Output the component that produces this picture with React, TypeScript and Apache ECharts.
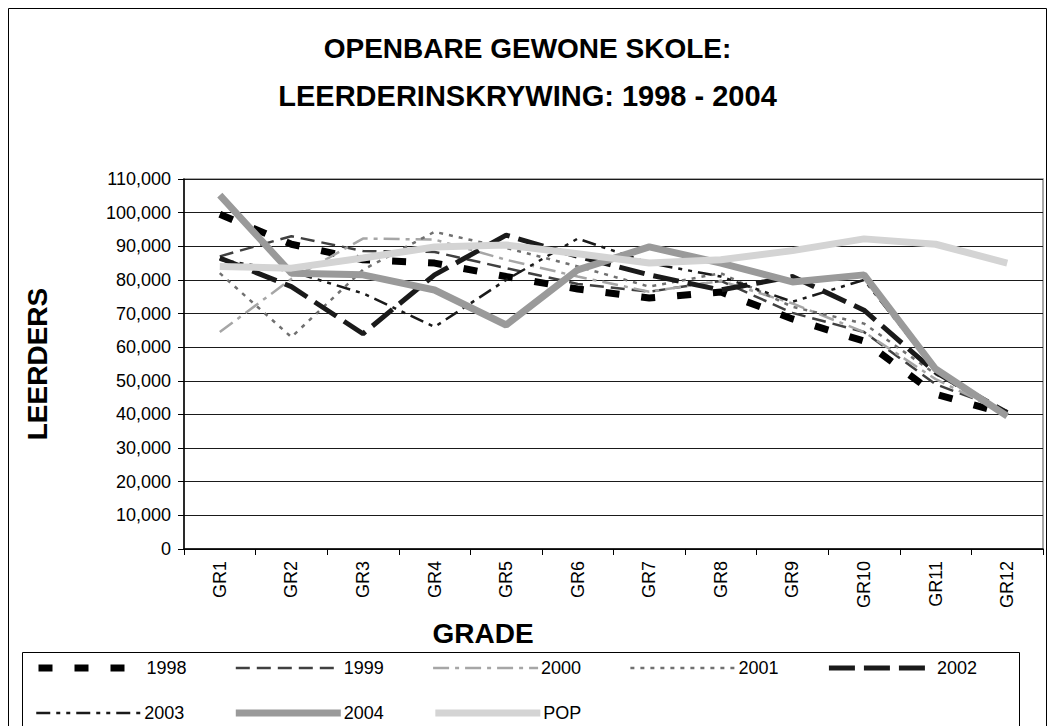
import React, { useEffect, useRef } from "react";
import * as echarts from "echarts";

const categories = ["GR1", "GR2", "GR3", "GR4", "GR5", "GR6", "GR7", "GR8", "GR9", "GR10", "GR11", "GR12"];

const y1998 = [99500, 90600, 86000, 85000, 81000, 77300, 74600, 76400, 68400, 61800, 46000, 40100];
const y1999 = [87000, 93000, 88600, 88300, 83500, 78800, 76500, 79700, 70200, 64500, 49000, 41000];
const y2000 = [64500, 80300, 92300, 92000, 86000, 81000, 76500, 79700, 73000, 64500, 50500, 40000];
const y2001 = [82000, 63000, 83000, 94300, 89500, 84000, 78000, 82000, 72000, 67000, 52000, 40000];
const y2002 = [86500, 78000, 64000, 81500, 93300, 87000, 81500, 77000, 81000, 71000, 52500, 40500];
const y2003 = [86000, 82500, 76000, 66000, 80000, 92300, 85000, 81000, 73500, 80000, 53000, 40000];
const y2004 = [105200, 82000, 81500, 77000, 66600, 83000, 89800, 85000, 79400, 81500, 53500, 39500];
const yPOP = [84000, 83500, 86500, 89800, 90400, 87800, 85000, 86000, 88700, 92200, 90600, 85000];

const seriesNames = ["1998", "1999", "2000", "2001", "2002", "2003", "2004", "POP"];
const seriesData = [y1998, y1999, y2000, y2001, y2002, y2003, y2004, yPOP];

const titleLine1 = "OPENBARE GEWONE SKOLE:";
const titleLine2 = "LEERDERINSKRYWING: 1998 - 2004";
const yAxisTitle = "LEERDERS";
const xAxisTitle = "GRADE";

const FONT = "'Liberation Sans', Arial, sans-serif";

const lineStyles: any[] = [
  { color: "#000000", width: 7, type: [14, 22] },
  { color: "#404040", width: 2.5, type: [14, 7] },
  { color: "#a6a6a6", width: 2.5, type: [16, 6, 4, 6] },
  { color: "#707070", width: 2.5, type: [4, 6] },
  { color: "#1a1a1a", width: 5, type: [26, 9] },
  { color: "#1a1a1a", width: 2.5, type: [14, 6, 4, 6, 4, 6] },
  { color: "#9a9a9a", width: 7, type: "solid" },
  { color: "#d4d4d4", width: 7, type: "solid" },
];

export default function App() {
  const ref = useRef<HTMLDivElement>(null);
  useEffect(() => {
    if (!ref.current) return;
    const chart = echarts.init(ref.current, null, { renderer: "svg" });
    const series = seriesNames.map((name, i) => ({
      name,
      type: "line",
      data: seriesData[i],
      symbol: "none",
      lineStyle: lineStyles[i],
      itemStyle: { color: lineStyles[i].color },
      emphasis: { disabled: true },
      z: 2 + i * 0.01,
    }));
    const legendCommon = {
      itemWidth: 105,
      itemHeight: 14,
      itemGap: 48,
      textStyle: { fontFamily: FONT, fontSize: 18, color: "#000", padding: [0, 0, 0, -2] },
      lineStyle: { width: "inherit" },
      itemStyle: { color: "rgba(0,0,0,0)", borderWidth: 0, opacity: 0 },
      selectedMode: false,
      orient: "horizontal",
    };
    chart.setOption({
      animation: false,
      backgroundColor: "#ffffff",
      title: {
        text: "{a|" + titleLine1 + "}\n{b|" + titleLine2 + "}",
        left: "center",
        top: 20,
        textStyle: {
          fontFamily: FONT,
          fontSize: 28,
          fontWeight: "bold",
          color: "#000",
          lineHeight: 47,
          rich: {
            a: { fontFamily: FONT, fontSize: 28, fontWeight: "bold", color: "#000", lineHeight: 47 },
            b: { fontFamily: FONT, fontSize: 29, fontWeight: "bold", color: "#000", lineHeight: 47 },
          },
        },
      },
      legend: [
        { ...legendCommon, data: seriesNames.slice(0, 5), left: 30, top: 654 },
        { ...legendCommon, data: seriesNames.slice(5), left: 30, top: 699 },
      ],
      grid: {
        left: 184,
        right: 12,
        top: 179,
        bottom: 177,
        show: true,
        borderColor: "#8c8c8c",
        borderWidth: 1.5,
        outerBoundsMode: "none",
      },
      xAxis: {
        type: "category",
        data: categories,
        boundaryGap: true,
        axisLine: { lineStyle: { color: "#000", width: 1.5 } },
        axisTick: { show: true, length: 6, alignWithLabel: false, lineStyle: { color: "#000" } },
        axisLabel: {
          rotate: 90,
          fontFamily: FONT,
          fontSize: 18,
          color: "#000",
          margin: 12,
          interval: 0,
        },
      },
      yAxis: {
        type: "value",
        min: 0,
        max: 110000,
        interval: 10000,
        name: yAxisTitle,
        nameLocation: "middle",
        nameRotate: 90,
        nameGap: 133,
        nameTextStyle: { fontFamily: FONT, fontSize: 28, fontWeight: "bold", color: "#000" },
        axisLine: { show: true, lineStyle: { color: "#000", width: 1.5 } },
        axisTick: { show: true, length: 6, lineStyle: { color: "#000" } },
        axisLabel: {
          fontFamily: FONT,
          fontSize: 18,
          color: "#000",
          margin: 13,
          formatter: (v: number) => v.toLocaleString("en-US"),
        },
        splitLine: { show: true, lineStyle: { color: "#1a1a1a", width: 1 } },
      },
      graphic: [
        {
          type: "rect",
          shape: { x: 8.5, y: 8.5, width: 1038, height: 740 },
          style: { fill: "none", stroke: "#000", lineWidth: 1 },
          z: -1,
          silent: true,
        },
        {
          type: "rect",
          shape: { x: 22.5, y: 652.5, width: 997, height: 100 },
          style: { fill: "none", stroke: "#000", lineWidth: 1 },
          silent: true,
        },
        {
          type: "text",
          x: 483,
          y: 633,
          style: {
            text: xAxisTitle,
            fontFamily: FONT,
            fontSize: 28,
            fontWeight: "bold",
            fill: "#000",
            align: "center",
            verticalAlign: "middle",
          },
          silent: true,
        },
      ],
      series,
    });
    return () => chart.dispose();
  }, []);
  return <div ref={ref} style={{ position: "fixed", left: 0, top: 0, width: 1055, height: 726 }} />;
}
